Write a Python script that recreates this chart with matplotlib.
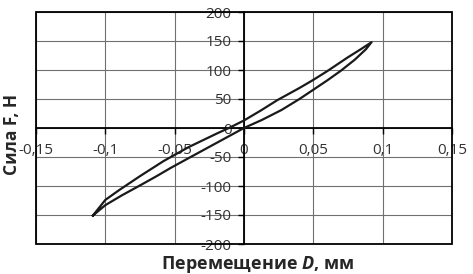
import matplotlib
matplotlib.use("Agg")
import matplotlib.pyplot as plt
from matplotlib.patches import Rectangle
from matplotlib.ticker import FuncFormatter

plt.rcParams['font.family'] = ['Open Sans', 'DejaVu Sans']
plt.rcParams['mathtext.fontset'] = 'custom'
plt.rcParams['mathtext.it'] = 'Open Sans:italic:bold'

# loading branch (lower curve), mm / N
load_d = [-0.109, -0.1, -0.088, -0.075, -0.063, -0.053, -0.04, -0.02, 0.0,
          0.013, 0.027, 0.04, 0.05, 0.06, 0.07, 0.08, 0.088, 0.092]
load_f = [-151, -133, -116, -99, -83, -69, -52, -26, 0,
          14, 31, 50, 66, 82, 99, 118, 136, 148]
# unloading branch (upper curve)
unload_d = [0.092, 0.085, 0.075, 0.06, 0.05, 0.04, 0.024, 0.012, 0.0,
            -0.01, -0.02, -0.04, -0.058, -0.075, -0.09, -0.1, -0.109]
unload_f = [148, 137, 122, 98, 83, 69, 48, 30, 13,
            1, -10, -33, -57, -83, -107, -124, -151]

xticks = [-0.15, -0.1, -0.05, 0, 0.05, 0.1, 0.15]
yticks = [-200, -150, -100, -50, 0, 50, 100, 150, 200]

fig = plt.figure(figsize=(4.73, 2.74), dpi=100)
ax = fig.add_axes([36 / 473, 30 / 274, 416 / 473, 232 / 274])

ax.plot(load_d + unload_d, load_f + unload_f, color='#1a1a1a', lw=1.6, zorder=3)

ax.set_xlim(-0.15, 0.15)
ax.set_ylim(-200, 200)
ax.set_xticks(xticks)
ax.set_yticks(yticks)


def comma(v, pos):
    return ('%g' % v).replace('.', ',')


ax.xaxis.set_major_formatter(FuncFormatter(comma))
ax.yaxis.set_major_formatter(FuncFormatter(comma))

ax.grid(True, color='#707070', lw=0.8)
ax.spines['left'].set_position('zero')
ax.spines['bottom'].set_position('zero')
ax.spines['top'].set_visible(False)
ax.spines['right'].set_visible(False)
for s in ('left', 'bottom'):
    ax.spines[s].set_linewidth(1.3)
    ax.spines[s].set_color('black')
ax.add_patch(Rectangle((0, 0), 1, 1, transform=ax.transAxes, fill=False,
                       ec='black', lw=1.3, clip_on=False, zorder=4))

ax.tick_params(axis='both', direction='out', length=4, width=1, colors='black',
               labelsize=11, labelcolor='#333333')
ax.tick_params(axis='x', pad=7)
ax.tick_params(axis='y', pad=5)

fig.text(0.545, 0.036, r'Перемещение $\mathit{D}$, мм', ha='center', va='center',
         fontsize=13, fontweight='bold', color='#262626')
fig.text(0.026, 0.51, 'Сила F, Н', ha='center', va='center', rotation=90,
         fontsize=12.5, fontweight='bold', color='#262626')

fig.savefig('out.png', dpi=100)
